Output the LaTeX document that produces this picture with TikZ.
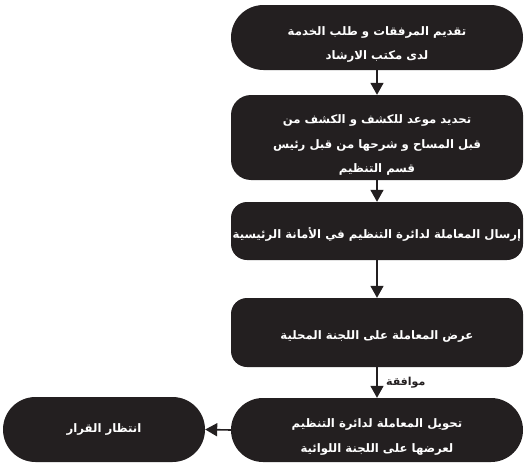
\documentclass[tikz,border=0pt]{standalone}
\usepackage{fontspec}
\usetikzlibrary{arrows.meta,shapes.misc}
\TeXXeTstate=1
\newfontfamily\arabicfont[Script=Arabic]{DejaVu Sans}
\definecolor{boxfill}{HTML}{231F20}
\newcommand\txtlift[1]{\rule{0pt}{#1}}
\tikzset{
  base/.style={fill=boxfill, draw=none, text=white, align=center,
    font=\arabicfont\bfseries\fontsize{11.7}{24.5}\selectfont, inner sep=0pt},
  pill/.style={base, rounded rectangle},
  rbox/.style={base, rectangle, rounded corners=#1},
  flow/.style={draw=boxfill, line width=1.6pt, -{Triangle[width=13pt,length=12pt]}},
}
\begin{document}
\begin{tikzpicture}[x=1pt,y=-1pt]
\useasboundingbox (0,0) rectangle (525,463);
\node[pill, minimum width=292pt, minimum height=65pt] (n1) at (377,37.5)
  {\txtlift{23pt}\beginR تقديم المرفقات و طلب الخدمة\endR\\\beginR لدى مكتب الارشاد\endR};
\node[rbox=20pt, minimum width=292pt, minimum height=85pt] (n2) at (377,137.5)
  {\txtlift{24pt}\beginR تحديد موعد للكشف و الكشف من\endR\\\beginR قبل المساح و شرحها من قبل رئيس\endR\\\beginR قسم التنظيم\endR};
\node[rbox=16pt, minimum width=292pt, minimum height=58pt] (n3) at (377,231)
  {\txtlift{17pt}\beginR إرسال المعاملة لدائرة التنظيم في الأمانة الرئيسية\endR};
\node[rbox=16pt, minimum width=292pt, minimum height=69pt] (n4) at (377,332.5)
  {\txtlift{16pt}\beginR عرض المعاملة على اللجنة المحلية\endR};
\node[pill, minimum width=292pt, minimum height=64pt] (n5) at (377,430)
  {\txtlift{23pt}\beginR تحويل المعاملة لدائرة التنظيم\endR\\\beginR لعرضها على اللجنة اللوائية\endR};
\node[pill, minimum width=202pt, minimum height=65pt] (n6) at (104,429.5)
  {\beginR انتظار القرار\endR};
\draw[flow] (n1.south) -- (n2.north);
\draw[flow] (n2.south) -- (n3.north);
\draw[flow] (n3.south) -- (n4.north);
\draw[flow] (n4.south) -- node[right=5pt, font=\arabicfont\bfseries\fontsize{11}{12}\selectfont, text=boxfill] (ok) {\beginR موافقة\endR} (n5.north);
\draw[flow] (n5.west) -- (n6.east);
\end{tikzpicture}
\end{document}
